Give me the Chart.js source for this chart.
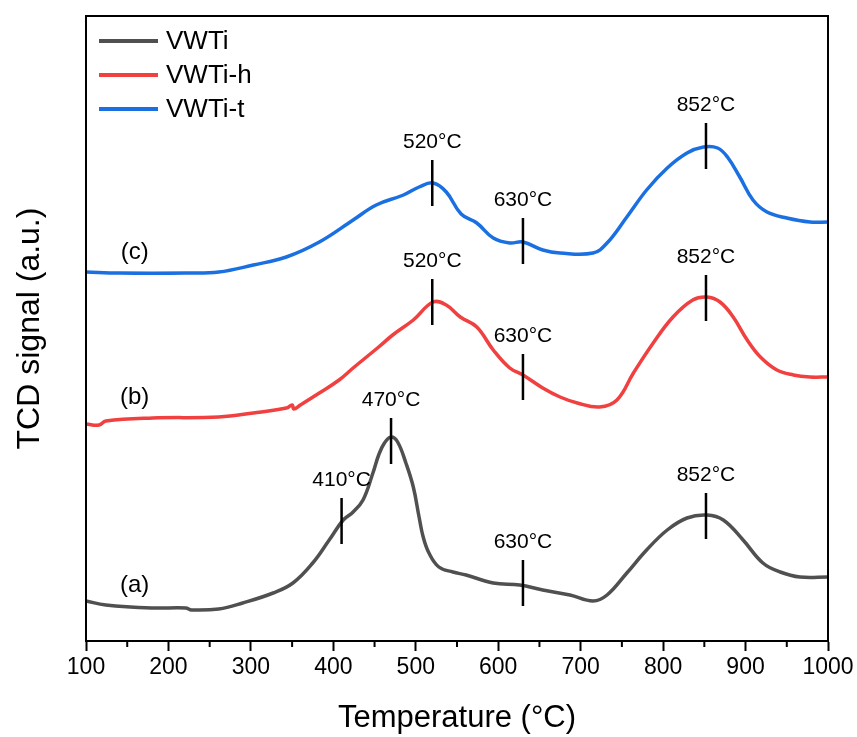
<!DOCTYPE html>
<html>
<head>
<meta charset="utf-8">
<title>TPR profiles</title>
<script src="https://cdn.jsdelivr.net/npm/chart.js@4.4.1/dist/chart.umd.min.js"></script>
<style>
    body { margin: 0; background: #fff; }
    canvas { display: block; }
</style>
</head>
<body>
<canvas id="tpr-chart" width="857" height="737"></canvas>
<script>
// signal is in arbitrary units (a.u.)
const tempsA = [100, 124, 181, 221, 228, 261, 290, 327, 351, 375, 395, 412, 424, 436, 448, 455, 462, 470, 478, 488, 497, 504, 509, 516, 528, 545, 561, 594, 626, 654, 687, 715, 732, 756, 780, 805, 829, 853, 873, 897, 921, 942, 966, 1000];
const signalA = [40, 36, 33, 33, 31, 32, 38, 48, 58, 78, 101, 121, 129, 141, 168, 186, 198, 204, 199, 178, 154, 124, 104, 88, 74, 69, 66, 58, 56, 51, 46, 40, 46, 68, 91, 111, 123, 126, 121, 101, 78, 69, 64, 64];

const tempsB = [100, 116, 124, 181, 261, 303, 343, 350, 352, 360, 383, 407, 424, 455, 472, 497, 521, 537, 554, 574, 594, 614, 630, 654, 675, 696, 723, 744, 764, 788, 812, 836, 853, 869, 885, 902, 918, 938, 958, 978, 1000];
const signalB = [217, 216, 220, 223, 224, 228, 233, 236, 232, 236, 248, 261, 273, 294, 306, 321, 339, 336, 324, 314, 291, 273, 266, 253, 244, 238, 234, 241, 268, 298, 324, 341, 344, 339, 324, 301, 284, 271, 266, 264, 264];

const tempsC = [100, 140, 221, 261, 303, 343, 383, 424, 452, 485, 504, 521, 537, 555, 574, 594, 614, 630, 654, 675, 715, 732, 756, 780, 805, 829, 849, 866, 878, 893, 909, 926, 950, 978, 1000];
const signalC = [369, 368, 368, 369, 376, 384, 399, 421, 436, 446, 454, 458, 449, 427, 418, 403, 398, 399, 391, 388, 388, 398, 424, 451, 473, 488, 494, 493, 484, 464, 441, 429, 423, 419, 419];

const seriesNames = ['VWTi', 'VWTi-h', 'VWTi-t'];
const xTicks = [100, 200, 300, 400, 500, 600, 700, 800, 900, 1000];
const xMinorTicks = [150, 250, 350, 450, 550, 650, 750, 850, 950];

// peak markers (temperature, signal at the middle of the mark, text)
const markerTemps = [410, 470, 630, 852, 520, 630, 852, 520, 630, 852];
const markerSignal = [120, 200, 58, 125, 339, 264, 343, 458, 400, 495];
const markerText = ['410°C', '470°C', '630°C', '852°C', '520°C', '630°C', '852°C', '520°C', '630°C', '852°C'];

// curve letters
const letterTemps = [159, 159, 159];
const letterSignal = [56, 244, 389];
const letterText = ['(a)', '(b)', '(c)'];

const FONT = "'Liberation Sans', Arial, sans-serif";
const colours = ['#505050', '#f04040', '#1a70e0'];

function makePoints(temps, signal) {
    return temps.map((t, i) => ({ x: t, y: signal[i] }));
}

// frame, minor ticks, peak marks, letters and the legend
const extrasPlugin = {
    id: 'extras',
    afterDatasetsDraw(chart) {
        const ctx = chart.ctx;
        const area = chart.chartArea;
        const xs = chart.scales.x;
        const ys = chart.scales.y;
        ctx.save();

        ctx.strokeStyle = '#000';
        ctx.lineWidth = 2;
        ctx.strokeRect(area.left, area.top, area.right - area.left, area.bottom - area.top);

        xMinorTicks.forEach(t => {
            const px = xs.getPixelForValue(t);
            ctx.beginPath();
            ctx.moveTo(px, area.bottom);
            ctx.lineTo(px, area.bottom + 6);
            ctx.stroke();
        });

        ctx.lineWidth = 2.5;
        ctx.fillStyle = '#000';
        ctx.font = '21px ' + FONT;
        ctx.textAlign = 'center';
        ctx.textBaseline = 'middle';
        markerTemps.forEach((t, i) => {
            const px = xs.getPixelForValue(t);
            const py = ys.getPixelForValue(markerSignal[i]);
            ctx.beginPath();
            ctx.moveTo(px, py - 23);
            ctx.lineTo(px, py + 23);
            ctx.stroke();
            ctx.fillText(markerText[i], px, py - 41);
        });

        ctx.font = '24px ' + FONT;
        letterTemps.forEach((t, i) => {
            ctx.fillText(letterText[i], xs.getPixelForValue(t), ys.getPixelForValue(letterSignal[i]));
        });

        // legend in the top left corner
        ctx.font = '26px ' + FONT;
        ctx.textAlign = 'left';
        ctx.lineWidth = 4;
        chart.data.datasets.forEach((ds, i) => {
            const ly = area.top + 25 + i * 34;
            ctx.strokeStyle = ds.borderColor;
            ctx.beginPath();
            ctx.moveTo(area.left + 13, ly);
            ctx.lineTo(area.left + 72, ly);
            ctx.stroke();
            ctx.fillText(ds.label, area.left + 80, ly + 1);
        });
        ctx.restore();
    }
};

function CreateTprChart() {
    console.log("Creating TPR chart");
    const ctx = document.getElementById('tpr-chart').getContext('2d');
    const allTemps = [tempsA, tempsB, tempsC];
    const allSignals = [signalA, signalB, signalC];

    new Chart(ctx, {
        type: 'line',
        data: {
            datasets: seriesNames.map((name, i) => ({
                label: name,
                data: makePoints(allTemps[i], allSignals[i]),
                borderColor: colours[i],
                borderWidth: 3.5,
                pointRadius: 0,
                fill: false,
                tension: 0.4,
            }))
        },
        options: {
            responsive: false,
            animation: false,
            layout: { padding: { top: 16, right: 29, left: 0, bottom: 0 } },
            plugins: {
                legend: { display: false },
                tooltip: { enabled: false },
            },
            scales: {
                x: {
                    type: 'linear',
                    min: 100,
                    max: 1000,
                    afterBuildTicks: scale => { scale.ticks = xTicks.map(v => ({ value: v })); },
                    afterFit: scale => { scale.height = 96; },
                    ticks: {
                        color: '#000',
                        font: { family: FONT, size: 23 },
                        padding: 3,
                        maxRotation: 0,
                        callback: value => String(value),
                    },
                    grid: { drawOnChartArea: false, tickLength: 10, tickWidth: 2, tickColor: '#000' },
                    border: { color: '#000', width: 2 },
                    title: {
                        display: true,
                        text: 'Temperature (°C)',
                        color: '#000',
                        font: { family: FONT, size: 31 },
                        padding: { top: 0, bottom: 0 },
                    },
                },
                y: {
                    min: 0,
                    max: 625,
                    afterFit: scale => { scale.width = 86; },
                    ticks: { display: false },
                    grid: { display: false },
                    border: { display: true, color: '#000', width: 2 },
                    title: {
                        display: true,
                        text: 'TCD signal (a.u.)',
                        color: '#000',
                        font: { family: FONT, size: 32 },
                        padding: { top: 11, bottom: 0 },
                    },
                },
            },
        },
        plugins: [extrasPlugin],
    });
    console.log('tpr chart created');
}

window.onload = function () {
    CreateTprChart();
};
</script>
</body>
</html>
